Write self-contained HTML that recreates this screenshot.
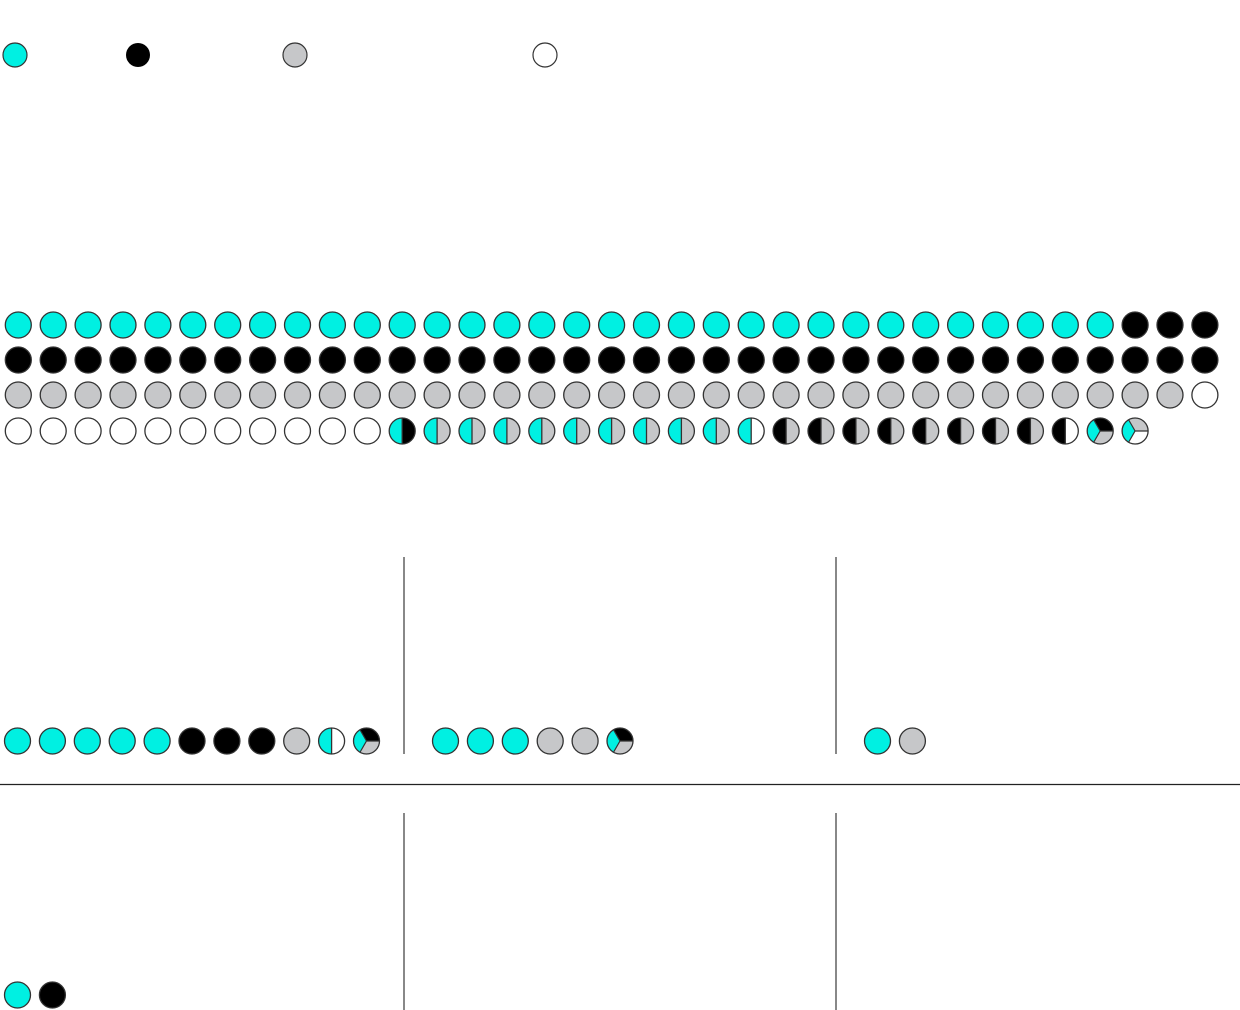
<!DOCTYPE html>
<html><head><meta charset="utf-8"><style>html,body{margin:0;padding:0;background:#fff}svg{display:block}</style></head>
<body>
<svg width="1240" height="1010" viewBox="0 0 1240 1010" xmlns="http://www.w3.org/2000/svg">
<defs>
<g id="c"><circle r="13" fill="#00F0E2" stroke="#333" stroke-width="1.3"/></g>
<g id="k"><circle r="13" fill="#000" stroke="#333" stroke-width="1.3"/></g>
<g id="g"><circle r="13" fill="#C6C7C9" stroke="#333" stroke-width="1.3"/></g>
<g id="w"><circle r="13" fill="#fff" stroke="#333" stroke-width="1.3"/></g>
<g id="ck"><path d="M0,-13 A13,13 0 0 0 0,13 Z" fill="#00F0E2"/><path d="M0,-13 A13,13 0 0 1 0,13 Z" fill="#000"/><line x1="0" y1="-13" x2="0" y2="13" stroke="#333" stroke-width="1.3"/><circle r="13" fill="none" stroke="#333" stroke-width="1.3"/></g>
<g id="cg"><path d="M0,-13 A13,13 0 0 0 0,13 Z" fill="#00F0E2"/><path d="M0,-13 A13,13 0 0 1 0,13 Z" fill="#C6C7C9"/><line x1="0" y1="-13" x2="0" y2="13" stroke="#333" stroke-width="1.3"/><circle r="13" fill="none" stroke="#333" stroke-width="1.3"/></g>
<g id="cw"><path d="M0,-13 A13,13 0 0 0 0,13 Z" fill="#00F0E2"/><path d="M0,-13 A13,13 0 0 1 0,13 Z" fill="#fff"/><line x1="0" y1="-13" x2="0" y2="13" stroke="#333" stroke-width="1.3"/><circle r="13" fill="none" stroke="#333" stroke-width="1.3"/></g>
<g id="kg"><path d="M0,-13 A13,13 0 0 0 0,13 Z" fill="#000"/><path d="M0,-13 A13,13 0 0 1 0,13 Z" fill="#C6C7C9"/><line x1="0" y1="-13" x2="0" y2="13" stroke="#333" stroke-width="1.3"/><circle r="13" fill="none" stroke="#333" stroke-width="1.3"/></g>
<g id="kw"><path d="M0,-13 A13,13 0 0 0 0,13 Z" fill="#000"/><path d="M0,-13 A13,13 0 0 1 0,13 Z" fill="#fff"/><line x1="0" y1="-13" x2="0" y2="13" stroke="#333" stroke-width="1.3"/><circle r="13" fill="none" stroke="#333" stroke-width="1.3"/></g>
<g id="t1"><path d="M0,0 L-6.5,11.26 A13,13 0 0 1 -6.5,-11.26 Z" fill="#00F0E2"/><path d="M0,0 L-6.5,-11.26 A13,13 0 0 1 13,0 Z" fill="#000"/><path d="M0,0 L13,0 A13,13 0 0 1 -6.5,11.26 Z" fill="#C6C7C9"/><path d="M-6.5,11.26 L0,0 L13,0 M0,0 L-6.5,-11.26" fill="none" stroke="#333" stroke-width="1.2"/><circle r="13" fill="none" stroke="#333" stroke-width="1.3"/></g>
<g id="t2"><path d="M0,0 L-6.5,11.26 A13,13 0 0 1 -6.5,-11.26 Z" fill="#00F0E2"/><path d="M0,0 L-6.5,-11.26 A13,13 0 0 1 13,0 Z" fill="#C6C7C9"/><path d="M0,0 L13,0 A13,13 0 0 1 -6.5,11.26 Z" fill="#fff"/><path d="M-6.5,11.26 L0,0 L13,0 M0,0 L-6.5,-11.26" fill="none" stroke="#333" stroke-width="1.2"/><circle r="13" fill="none" stroke="#333" stroke-width="1.3"/></g>
</defs>
<!-- legend -->
<ellipse cx="15" cy="55" rx="12" ry="12" fill="#00F0E2" stroke="#333" stroke-width="1.2"/>
<ellipse cx="138" cy="55" rx="12" ry="12" fill="#000"/>
<ellipse cx="295" cy="55" rx="12" ry="12" fill="#C6C7C9" stroke="#333" stroke-width="1.2"/>
<ellipse cx="545" cy="55" rx="12" ry="12" fill="#fff" stroke="#333" stroke-width="1.2"/>
<!-- row 1 -->
<g>
<use href="#c" x="18.3" y="325"/><use href="#c" x="53.2" y="325"/><use href="#c" x="88.1" y="325"/><use href="#c" x="123" y="325"/><use href="#c" x="157.9" y="325"/><use href="#c" x="192.8" y="325"/><use href="#c" x="227.7" y="325"/><use href="#c" x="262.6" y="325"/><use href="#c" x="297.5" y="325"/><use href="#c" x="332.4" y="325"/><use href="#c" x="367.3" y="325"/><use href="#c" x="402.2" y="325"/><use href="#c" x="437.1" y="325"/><use href="#c" x="472" y="325"/><use href="#c" x="506.9" y="325"/><use href="#c" x="541.8" y="325"/><use href="#c" x="576.7" y="325"/><use href="#c" x="611.6" y="325"/><use href="#c" x="646.5" y="325"/><use href="#c" x="681.4" y="325"/><use href="#c" x="716.3" y="325"/><use href="#c" x="751.2" y="325"/><use href="#c" x="786.1" y="325"/><use href="#c" x="821" y="325"/><use href="#c" x="855.9" y="325"/><use href="#c" x="890.8" y="325"/><use href="#c" x="925.7" y="325"/><use href="#c" x="960.6" y="325"/><use href="#c" x="995.5" y="325"/><use href="#c" x="1030.4" y="325"/><use href="#c" x="1065.3" y="325"/><use href="#c" x="1100.2" y="325"/><use href="#k" x="1135.1" y="325"/><use href="#k" x="1170" y="325"/><use href="#k" x="1204.9" y="325"/>
</g>
<!-- row 2 -->
<g>
<use href="#k" x="18.3" y="360"/><use href="#k" x="53.2" y="360"/><use href="#k" x="88.1" y="360"/><use href="#k" x="123" y="360"/><use href="#k" x="157.9" y="360"/><use href="#k" x="192.8" y="360"/><use href="#k" x="227.7" y="360"/><use href="#k" x="262.6" y="360"/><use href="#k" x="297.5" y="360"/><use href="#k" x="332.4" y="360"/><use href="#k" x="367.3" y="360"/><use href="#k" x="402.2" y="360"/><use href="#k" x="437.1" y="360"/><use href="#k" x="472" y="360"/><use href="#k" x="506.9" y="360"/><use href="#k" x="541.8" y="360"/><use href="#k" x="576.7" y="360"/><use href="#k" x="611.6" y="360"/><use href="#k" x="646.5" y="360"/><use href="#k" x="681.4" y="360"/><use href="#k" x="716.3" y="360"/><use href="#k" x="751.2" y="360"/><use href="#k" x="786.1" y="360"/><use href="#k" x="821" y="360"/><use href="#k" x="855.9" y="360"/><use href="#k" x="890.8" y="360"/><use href="#k" x="925.7" y="360"/><use href="#k" x="960.6" y="360"/><use href="#k" x="995.5" y="360"/><use href="#k" x="1030.4" y="360"/><use href="#k" x="1065.3" y="360"/><use href="#k" x="1100.2" y="360"/><use href="#k" x="1135.1" y="360"/><use href="#k" x="1170" y="360"/><use href="#k" x="1204.9" y="360"/>
</g>
<!-- row 3 -->
<g>
<use href="#g" x="18.3" y="395"/><use href="#g" x="53.2" y="395"/><use href="#g" x="88.1" y="395"/><use href="#g" x="123" y="395"/><use href="#g" x="157.9" y="395"/><use href="#g" x="192.8" y="395"/><use href="#g" x="227.7" y="395"/><use href="#g" x="262.6" y="395"/><use href="#g" x="297.5" y="395"/><use href="#g" x="332.4" y="395"/><use href="#g" x="367.3" y="395"/><use href="#g" x="402.2" y="395"/><use href="#g" x="437.1" y="395"/><use href="#g" x="472" y="395"/><use href="#g" x="506.9" y="395"/><use href="#g" x="541.8" y="395"/><use href="#g" x="576.7" y="395"/><use href="#g" x="611.6" y="395"/><use href="#g" x="646.5" y="395"/><use href="#g" x="681.4" y="395"/><use href="#g" x="716.3" y="395"/><use href="#g" x="751.2" y="395"/><use href="#g" x="786.1" y="395"/><use href="#g" x="821" y="395"/><use href="#g" x="855.9" y="395"/><use href="#g" x="890.8" y="395"/><use href="#g" x="925.7" y="395"/><use href="#g" x="960.6" y="395"/><use href="#g" x="995.5" y="395"/><use href="#g" x="1030.4" y="395"/><use href="#g" x="1065.3" y="395"/><use href="#g" x="1100.2" y="395"/><use href="#g" x="1135.1" y="395"/><use href="#g" x="1170" y="395"/><use href="#w" x="1204.9" y="395"/>
</g>
<!-- row 4 -->
<g>
<use href="#w" x="18.3" y="431"/><use href="#w" x="53.2" y="431"/><use href="#w" x="88.1" y="431"/><use href="#w" x="123" y="431"/><use href="#w" x="157.9" y="431"/><use href="#w" x="192.8" y="431"/><use href="#w" x="227.7" y="431"/><use href="#w" x="262.6" y="431"/><use href="#w" x="297.5" y="431"/><use href="#w" x="332.4" y="431"/><use href="#w" x="367.3" y="431"/><use href="#ck" x="402.2" y="431"/><use href="#cg" x="437.1" y="431"/><use href="#cg" x="472" y="431"/><use href="#cg" x="506.9" y="431"/><use href="#cg" x="541.8" y="431"/><use href="#cg" x="576.7" y="431"/><use href="#cg" x="611.6" y="431"/><use href="#cg" x="646.5" y="431"/><use href="#cg" x="681.4" y="431"/><use href="#cg" x="716.3" y="431"/><use href="#cw" x="751.2" y="431"/><use href="#kg" x="786.1" y="431"/><use href="#kg" x="821" y="431"/><use href="#kg" x="855.9" y="431"/><use href="#kg" x="890.8" y="431"/><use href="#kg" x="925.7" y="431"/><use href="#kg" x="960.6" y="431"/><use href="#kg" x="995.5" y="431"/><use href="#kg" x="1030.4" y="431"/><use href="#kw" x="1065.3" y="431"/><use href="#t1" x="1100.2" y="431"/><use href="#t2" x="1135.1" y="431"/>
</g>
<!-- dividers -->
<line x1="404" y1="557" x2="404" y2="754" stroke="#888" stroke-width="2"/>
<line x1="836" y1="557" x2="836" y2="754" stroke="#888" stroke-width="2"/>
<line x1="0" y1="784.5" x2="1240" y2="784.5" stroke="#222" stroke-width="1.2"/>
<line x1="404" y1="813" x2="404" y2="1010" stroke="#888" stroke-width="2"/>
<line x1="836" y1="813" x2="836" y2="1010" stroke="#888" stroke-width="2"/>
<!-- panel rows -->
<g>
<use href="#c" x="17.5" y="741"/><use href="#c" x="52.4" y="741"/><use href="#c" x="87.3" y="741"/><use href="#c" x="122.2" y="741"/><use href="#c" x="157.1" y="741"/><use href="#k" x="192" y="741"/><use href="#k" x="226.9" y="741"/><use href="#k" x="261.8" y="741"/><use href="#g" x="296.7" y="741"/><use href="#cw" x="331.6" y="741"/><use href="#t1" x="366.5" y="741"/>
<use href="#c" x="445.5" y="741"/><use href="#c" x="480.4" y="741"/><use href="#c" x="515.3" y="741"/><use href="#g" x="550.2" y="741"/><use href="#g" x="585.1" y="741"/><use href="#t1" x="620" y="741"/>
<use href="#c" x="877.5" y="741"/><use href="#g" x="912.4" y="741"/>
<use href="#c" x="17.5" y="995"/><use href="#k" x="52.4" y="995"/>
</g>
</svg>
</body></html>
